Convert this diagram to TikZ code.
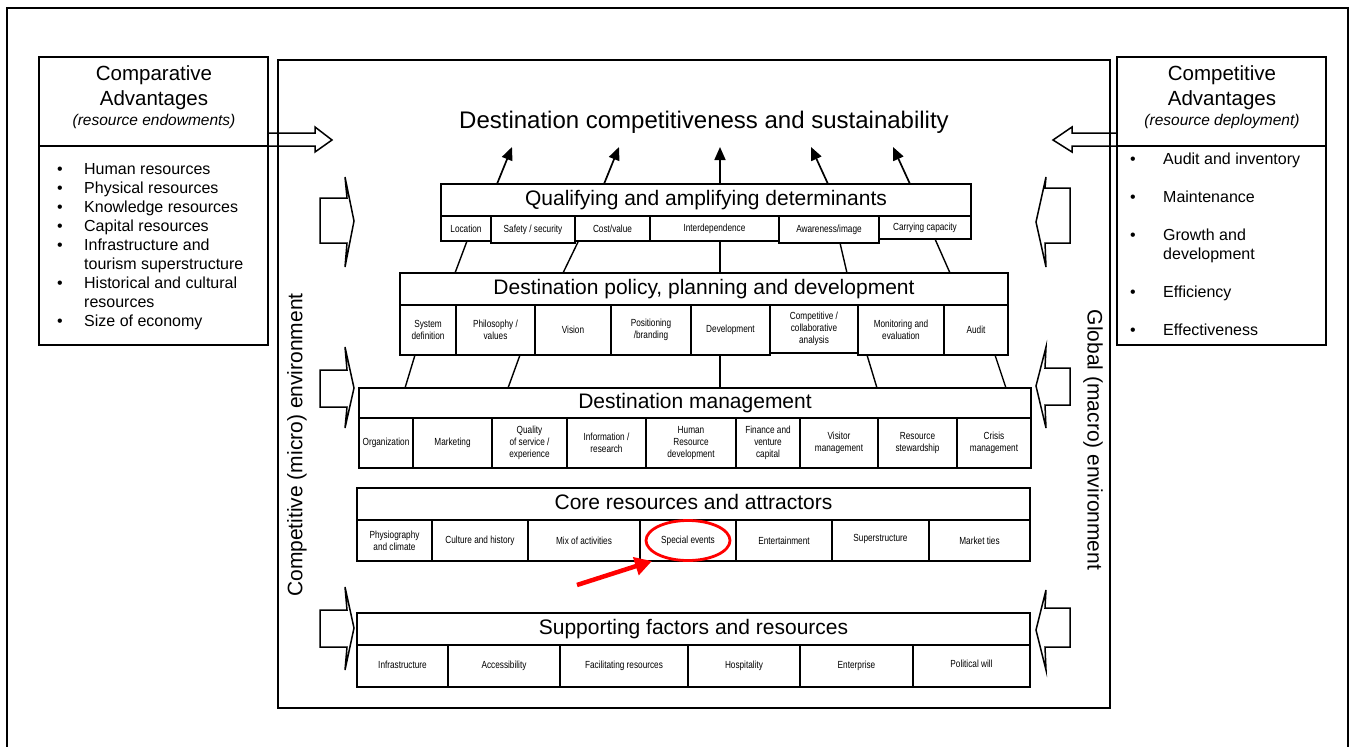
\documentclass[tikz,border=0pt]{standalone}
\usepackage{fontspec}
\setmainfont{Liberation Sans}
\newfontfamily\narrowsf[FakeStretch=0.8]{Liberation Sans}
\usetikzlibrary{arrows.meta}

% a cell of a component row: name, x1, y1, x2, y2, text
\newcommand\cellat[6]{\node[cell, minimum width={(#4)-(#2)}, minimum height={(#5)-(#3)}] (#1) at (#2,#3) {#6};}
% a title band of a layer: name, x1, y1, x2, y2, text
\newcommand\bandat[6]{\node[band, minimum width={(#4)-(#2)}, minimum height={(#5)-(#3)}] (#1) at (#2,#3) {#6};}

\begin{document}
\begin{tikzpicture}[x=1pt,y=-1pt,
  box/.style={draw, line width=1.6pt, anchor=north west, inner sep=0pt, outer sep=0pt},
  band/.style={box, text height=15pt, text depth=4pt, font=\fontsize{21}{24}\selectfont},
  cell/.style={box, line width=1.4pt, align=center, font=\narrowsf\fontsize{10.3}{12.3}\selectfont},
  hollow/.style={draw, line width=1.5pt, line join=miter},
  flow/.style={line width=1.7pt, -{Triangle[length=13pt,width=11pt]}},
  link/.style={line width=1.4pt},
  side/.style={inner sep=0pt, font=\fontsize{21}{24}\selectfont},
  head/.style={inner sep=0pt, anchor=base, font=\fontsize{20.5}{24}\selectfont},
  sub/.style={inner sep=0pt, anchor=base, font=\fontsize{15.5}{18}\selectfont\itshape},
  lst/.style={anchor=north west, inner sep=0pt, align=left, font=\fontsize{16}{19}\selectfont},
  ring/.style={draw=red, line width=2.8pt},
  pointer/.style={draw=red, line width=4.5pt, -{Triangle[length=17pt,width=18pt]}}
]
\useasboundingbox (0,0) rectangle (1355,747);

% outer frame, open at the bottom edge
\draw[line width=1.6pt] (7,760) -- (7,8) -- (1348,8) -- (1348,760);

% destination frame
\node[box, minimum width=832, minimum height=648] (frame) at (278,60) {};

% comparative advantages
\node[box, minimum width=229, minimum height=89] (cmphead) at (39,57) {};
\node[box, minimum width=229, minimum height=199] (cmplist) at (39,146) {};
\node[head] (cmpt1) at (154,80) {Comparative};
\node[head] (cmpt2) at (154,105) {Advantages};
\node[sub] (cmpt3) at (154,125) {(resource endowments)};
\node[lst] (cmpitems) at (57,160.5) {%
  \begin{tabular}{@{}p{27pt}@{}l@{}}
  \textbullet & Human resources\\
  \textbullet & Physical resources\\
  \textbullet & Knowledge resources\\
  \textbullet & Capital resources\\
  \textbullet & Infrastructure and\\
              & tourism superstructure\\
  \textbullet & Historical and cultural\\
              & resources\\
  \textbullet & Size of economy
  \end{tabular}};

% competitive advantages
\node[box, minimum width=209, minimum height=89] (cpthead) at (1117,57) {};
\node[box, minimum width=209, minimum height=199] (cptlist) at (1117,146) {};
\node[head] (cptt1) at (1222,80) {Competitive};
\node[head] (cptt2) at (1222,105) {Advantages};
\node[sub] (cptt3) at (1222,125) {(resource deployment)};
\node[lst] (cptitems) at (1130,150.5) {%
  \begin{tabular}{@{}p{33pt}@{}l@{}}
  \textbullet & Audit and inventory\\[19pt]
  \textbullet & Maintenance\\[19pt]
  \textbullet & Growth and\\
              & development\\[19pt]
  \textbullet & Efficiency\\[19pt]
  \textbullet & Effectiveness
  \end{tabular}};

% hollow arrows from the advantage boxes
\draw[hollow] (268,133) -- (315,133) -- (315,127) -- (332,140) -- (315,152) -- (315,146) -- (268,146);
\draw[hollow] (1117,133) -- (1072,133) -- (1072,127) -- (1053,140) -- (1072,152) -- (1072,146) -- (1117,146);

% environment labels
\node[side, rotate=90] (micro) at (297,445) {Competitive (micro) environment};
\node[side, rotate=-90] (macro) at (1093,440) {Global (macro) environment};

% hollow arrows of the micro environment
\draw[hollow] (320,198) -- (347,198) -- (345,177) -- (354,221) -- (345,267) -- (347,243) -- (320,243) -- cycle;
\draw[hollow] (320,370) -- (347,370) -- (345,347) -- (354,388) -- (345,428) -- (347,407) -- (320,407) -- cycle;
\draw[hollow] (320,610) -- (347,610) -- (345,587) -- (354,628) -- (345,670) -- (347,647) -- (320,647) -- cycle;
% hollow arrows of the macro environment
\draw[hollow] (1070,188) -- (1045,188) -- (1046,177) -- (1036,222) -- (1046,267) -- (1045,243) -- (1070,243) -- cycle;
\draw[hollow] (1070,368) -- (1045,368) -- (1046,347) -- (1036,386) -- (1046,428) -- (1045,405) -- (1070,405) -- cycle;
\draw[hollow] (1070,608) -- (1045,608) -- (1046,590) -- (1036,630) -- (1046,670) -- (1045,647) -- (1070,647) -- cycle;

% overall outcome
\node[inner sep=0pt, font=\fontsize{24}{28}\selectfont] (goal) at (704,122) {Destination competitiveness and sustainability};

% qualifying and amplifying determinants
\bandat{qual}{441}{184}{971}{216}{Qualifying and amplifying determinants}
\cellat{qloc}{441}{216}{491}{241}{Location}
\cellat{qsaf}{491}{216}{575}{243}{Safety / security}
\cellat{qcost}{575}{216}{650}{241}{Cost/value}
\cellat{qint}{650}{216}{779}{241}{Interdependence}
\cellat{qaware}{779}{216}{879}{243}{Awareness/image}
\cellat{qcarry}{879}{216}{971}{239}{Carrying capacity}

% destination policy, planning and development
\bandat{pol}{400}{273}{1008}{305}{Destination policy, planning and development}
\cellat{pdef}{400}{305}{456}{355}{System\\definition}
\cellat{pphil}{456}{305}{535}{355}{Philosophy /\\values}
\cellat{pvis}{535}{305}{611}{355}{Vision}
\cellat{ppos}{611}{305}{691}{355}{Positioning\\/branding}
\cellat{pdev}{691}{305}{770}{355}{Development}
\cellat{pcomp}{770}{305}{858}{353}{Competitive /\\collaborative\\analysis}
\cellat{pmon}{858}{305}{944}{355}{Monitoring and\\evaluation}
\cellat{paud}{944}{305}{1008}{355}{Audit}

% destination management
\bandat{man}{359}{388}{1031}{418}{Destination management}
\cellat{morg}{359}{418}{413}{468}{Organization}
\cellat{mmkt}{413}{418}{492}{468}{Marketing}
\cellat{mqual}{492}{418}{567}{468}{Quality\\of service /\\experience}
\cellat{minfo}{567}{418}{646}{468}{Information /\\research}
\cellat{mhr}{646}{418}{736}{468}{Human\\Resource\\development}
\cellat{mfin}{736}{418}{800}{468}{Finance and\\venture\\capital}
\cellat{mvis}{800}{418}{878}{468}{Visitor\\management}
\cellat{mres}{878}{418}{957}{468}{Resource\\stewardship}
\cellat{mcri}{957}{418}{1031}{468}{Crisis\\management}

% core resources and attractors
\bandat{core}{357}{488}{1030}{520}{Core resources and attractors}
\cellat{cphy}{357}{520}{432}{561}{Physiography\\and climate}
\cellat{ccul}{432}{520}{528}{561}{\raisebox{2pt}{Culture and history}}
\cellat{cmix}{528}{520}{640}{561}{Mix of activities}
\cellat{cspe}{640}{520}{736}{561}{Special events}
\cellat{cent}{736}{520}{832}{561}{Entertainment}
\cellat{csup}{832}{520}{929}{561}{\raisebox{5pt}{Superstructure}}
\cellat{cmkt}{929}{520}{1030}{561}{Market ties}

% supporting factors and resources
\bandat{supp}{357}{613}{1030}{645}{Supporting factors and resources}
\cellat{sinf}{357}{645}{448}{687}{\raisebox{3pt}{Infrastructure}}
\cellat{sacc}{448}{645}{560}{687}{Accessibility}
\cellat{sfac}{560}{645}{688}{687}{Facilitating resources}
\cellat{shos}{688}{645}{800}{687}{Hospitality}
\cellat{sent}{800}{645}{913}{687}{Enterprise}
\cellat{spol}{913}{645}{1030}{687}{\raisebox{5pt}{Political will}}

% arrows towards the overall outcome
\coordinate (g1) at (512,147);
\coordinate (g2) at (619,147);
\coordinate (g3) at (720,147);
\coordinate (g4) at (811,147);
\coordinate (g5) at (893,147);
\coordinate (q1) at (497,184);
\coordinate (q2) at (604,184);
\coordinate (q3) at (720,184);
\coordinate (q4) at (828,184);
\coordinate (q5) at (910,184);
\foreach \i in {1,...,5} \draw[flow] (q\i) -- (g\i);

% links between the qualifying and the policy layer
\coordinate (qa1) at (467,241);  \coordinate (pa1) at (455,273);
\coordinate (qa2) at (578,242);  \coordinate (pa2) at (563,273);
\coordinate (qa3) at (720,241);  \coordinate (pa3) at (720,273);
\coordinate (qa4) at (840,243);  \coordinate (pa4) at (847,273);
\coordinate (qa5) at (935,239);  \coordinate (pa5) at (950,273);
\foreach \i in {1,...,5} \draw[link] (qa\i) -- (pa\i);

% links between the policy and the management layer
\coordinate (pb1) at (415,355);  \coordinate (mb1) at (405,388);
\coordinate (pb2) at (520,355);  \coordinate (mb2) at (508,388);
\coordinate (pb3) at (720,355);  \coordinate (mb3) at (720,388);
\coordinate (pb4) at (867,355);  \coordinate (mb4) at (877,388);
\coordinate (pb5) at (995,355);  \coordinate (mb5) at (1006,388);
\foreach \i in {1,...,5} \draw[link] (pb\i) -- (mb\i);

% highlight of special events
\draw[ring] (cspe.center) ellipse [x radius=42, y radius=20];
\coordinate (hltail) at (577,585);
\coordinate (hltip) at (652,561);
\draw[pointer] (hltail) -- (hltip);
\end{tikzpicture}
\end{document}
